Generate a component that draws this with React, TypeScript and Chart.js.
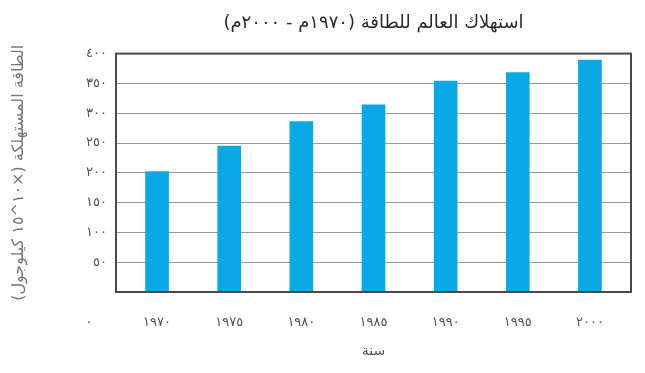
import React, { useEffect, useRef } from "react";
import { Chart, registerables } from "chart.js";

Chart.register(...registerables);

const chartTitle = "استهلاك العالم للطاقة (١٩٧٠م - ٢٠٠٠م)";
const yAxisTitle = "الطاقة المستهلكة (×١٠^١٥ كيلوجول)";
const xAxisTitle = "سنة";
const years = ["١٩٧٠", "١٩٧٥", "١٩٨٠", "١٩٨٥", "١٩٩٠", "١٩٩٥", "٢٠٠٠"];
const consumption = [202, 245, 286, 314, 354, 368, 389];
const originLabel = "٠";
const arabicDigits = ["٠", "١", "٢", "٣", "٤", "٥", "٦", "٧", "٨", "٩"];

const toArabic = (v: number | string) =>
  String(v).replace(/[0-9]/g, (d) => arabicDigits[Number(d)]);

const FONT = "'DejaVu Sans', sans-serif";

// inset the category positions a little inside the frame
const insetPlugin = {
  id: "inset",
  afterLayout(chart: any) {
    const s = chart.scales.x;
    const inset = 5;
    s._startPixel += inset;
    s._endPixel -= inset;
    s._length -= inset * 2;
  },
};

const framePlugin = {
  id: "frame",
  afterDraw(chart: any) {
    const { ctx, chartArea } = chart;
    ctx.save();
    ctx.strokeStyle = "#4a4a4a";
    ctx.lineWidth = 2;
    ctx.strokeRect(
      chartArea.left,
      chartArea.top,
      chartArea.right - chartArea.left,
      chartArea.bottom - chartArea.top
    );
    const xScale = chart.scales.x;
    ctx.fillStyle = "#555";
    ctx.font = `13px ${FONT}`;
    ctx.textAlign = "center";
    ctx.textBaseline = "middle";
    ctx.fillText(originLabel, chartArea.left - 27, xScale.top + 31);
    ctx.restore();
  },
};

export default function App() {
  const ref = useRef<HTMLCanvasElement>(null);
  useEffect(() => {
    if (!ref.current) return;
    const chart = new Chart(ref.current, {
      type: "bar",
      data: {
        labels: years,
        datasets: [
          {
            data: consumption,
            backgroundColor: "#0aa8e4",
            barThickness: 23,
          },
        ],
      },
      options: {
        animation: false,
        responsive: false,
        layout: { padding: { left: 8, right: 14, top: 4, bottom: 10 } },
        plugins: {
          legend: { display: false },
          tooltip: { enabled: false },
          title: {
            display: true,
            text: chartTitle,
            fullSize: false,
            color: "#2a2a2a",
            font: { family: FONT, size: 18, weight: "normal" },
            padding: { top: 9, bottom: 19 },
          },
        },
        scales: {
          x: {
            afterFit: (s: any) => {
              s.height = 71;
            },
            grid: { display: false, drawTicks: false },
            border: { display: false },
            ticks: {
              color: "#555",
              padding: 23,
              font: { family: FONT, size: 13 },
            },
            title: {
              display: true,
              text: xAxisTitle,
              color: "#555",
              font: { family: FONT, size: 14 },
              padding: { top: 0, bottom: 3 },
            },
          },
          y: {
            min: 0,
            max: 400,
            afterFit: (s: any) => {
              s.width = 108;
            },
            grid: { color: "#999", lineWidth: 1, drawTicks: false },
            border: { display: false },
            ticks: {
              stepSize: 50,
              color: "#555",
              padding: 9,
              font: { family: FONT, size: 13 },
              callback: (v: any) => (Number(v) === 0 ? "" : toArabic(v)),
            },
            title: {
              display: true,
              text: yAxisTitle,
              color: "#777",
              font: { family: FONT, size: 16 },
              padding: { top: 1, bottom: 0 },
            },
          },
        },
      },
      plugins: [insetPlugin, framePlugin],
    });
    return () => chart.destroy();
  }, []);
  return (
    <div style={{ position: "fixed", left: 0, top: 0, width: 645, height: 373, background: "#fff" }}>
      <canvas ref={ref} width={645} height={373} />
    </div>
  );
}
